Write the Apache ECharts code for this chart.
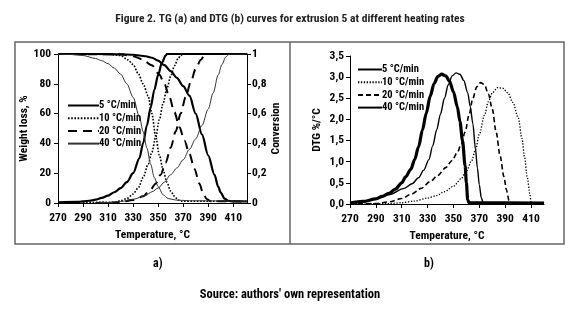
<!DOCTYPE html>
<html>
<head>
<meta charset="utf-8">
<script src="https://cdn.jsdelivr.net/npm/echarts@6/dist/echarts.min.js"></script>
<style>
  html, body { margin: 0; padding: 0; background: #fff; }
  #chart { width: 580px; height: 311px; }
</style>
</head>
<body>
<div id="chart"></div>
<script>
// heating rates (legend)
const rates = ['5 °C/min', '10 °C/min', '20 °C/min', '40 °C/min'];
const tempTicks = [270, 290, 310, 330, 350, 370, 390, 410];

// a) TG - weight loss, %
const tgT5 = [270, 300, 320, 330, 340, 345, 350, 355, 360, 365, 370, 375, 380, 385, 390, 395, 398, 400, 403, 406, 410, 421];
const tgW5 = [100, 100, 99.8, 99.5, 98.5, 97.5, 95.5, 92.5, 88.5, 84, 78.5, 72, 60, 46, 32, 19, 11, 7, 3, 1.5, 1.1, 1];
const tgT10 = [270, 310, 320, 326, 330, 334, 338, 342, 345, 348, 351, 354, 357, 360, 363, 366, 369, 421];
const tgW10 = [100, 99.8, 99, 96, 93, 87, 80, 72, 60, 45, 32, 22, 14, 8, 4.5, 2, 1.2, 1.2];
const tgT20 = [270, 320, 330, 337, 345, 351, 355, 359, 363, 367, 371, 375, 379, 383, 386, 389, 392, 421];
const tgW20 = [100, 99.8, 98.5, 96.5, 92.5, 86, 80, 71, 61, 51, 42, 33, 23, 13, 6, 2.5, 1.2, 1];
const tgT40 = [270, 280, 290, 300, 305, 310, 315, 320, 325, 330, 335, 338, 341, 344, 347, 350, 354, 358, 364, 375, 421];
const tgW40 = [100, 99.7, 99, 97, 95.5, 93.5, 90.5, 86.5, 80, 71, 58, 48, 37, 26, 17, 11, 5.5, 3, 2, 1.5, 1.2];

// a) conversion
const cvT5 = [270, 285, 295, 300, 305, 310, 315, 320, 325, 330, 335, 338, 341, 344, 347, 350, 353, 356, 357, 421];
const cvC5 = [0.005, 0.008, 0.015, 0.022, 0.035, 0.05, 0.072, 0.1, 0.14, 0.2, 0.3, 0.4, 0.52, 0.64, 0.76, 0.86, 0.94, 0.99, 1, 1];
const cvT10 = [290, 315, 320, 325, 330, 334, 338, 342, 345, 348, 351, 354, 357, 360, 363, 366, 368, 370, 421];
const cvC10 = [0.003, 0.005, 0.015, 0.03, 0.06, 0.1, 0.17, 0.26, 0.34, 0.44, 0.56, 0.67, 0.77, 0.85, 0.92, 0.97, 0.99, 1, 1];
const cvT20 = [300, 310, 320, 330, 338, 344, 348, 352, 356, 360, 364, 368, 372, 376, 380, 384, 387, 389, 421];
const cvC20 = [0, 0.002, 0.006, 0.02, 0.045, 0.09, 0.13, 0.19, 0.27, 0.37, 0.48, 0.6, 0.71, 0.81, 0.9, 0.96, 0.99, 1, 1];
const cvT40 = [300, 310, 320, 330, 340, 345, 350, 355, 360, 365, 370, 375, 380, 385, 390, 394, 398, 401, 404, 407, 421];
const cvC40 = [0, 0.003, 0.01, 0.025, 0.05, 0.075, 0.1, 0.14, 0.19, 0.235, 0.29, 0.36, 0.43, 0.52, 0.63, 0.74, 0.86, 0.93, 0.98, 1, 1];

// b) DTG, %/°C
const dtT5 = [270, 280, 290, 295, 300, 305, 310, 313, 317, 320, 323, 326, 329, 332, 335, 338, 341, 344, 347, 350, 353, 355, 357, 359, 360, 361, 362, 420];
const dtD5 = [0.02, 0.06, 0.12, 0.18, 0.25, 0.35, 0.5, 0.64, 0.82, 1.05, 1.35, 1.75, 2.15, 2.55, 2.85, 3.02, 3.07, 3.03, 2.9, 2.65, 2.3, 1.95, 1.5, 0.9, 0.5, 0.1, 0.03, 0.02];
const dtT10 = [270, 300, 310, 320, 330, 337, 343, 350, 356, 360, 364, 367, 370, 374, 377, 380, 384, 388, 392, 396, 400, 403, 405, 407, 409, 410, 412, 420];
const dtD10 = [0, 0.01, 0.03, 0.07, 0.14, 0.2, 0.29, 0.42, 0.6, 0.78, 1.02, 1.28, 1.65, 2.1, 2.42, 2.63, 2.75, 2.74, 2.63, 2.4, 2.05, 1.55, 1.1, 0.65, 0.25, 0.05, 0.02, 0.02];
const dtT20 = [270, 290, 300, 310, 318, 325, 332, 338, 344, 349, 353, 356, 359, 362, 365, 368, 371, 374, 377, 380, 383, 386, 389, 391, 393, 395, 420];
const dtD20 = [0, 0.01, 0.05, 0.13, 0.24, 0.37, 0.53, 0.68, 0.86, 1.03, 1.22, 1.42, 1.7, 2.1, 2.5, 2.77, 2.87, 2.82, 2.6, 2.25, 1.7, 1.15, 0.65, 0.33, 0.08, 0.02, 0.02];
const dtT40 = [270, 282, 290, 300, 312, 318, 323, 327, 331, 334, 337, 340, 343, 346, 349, 352, 355, 358, 361, 363, 365, 367, 368.5, 370, 371.5, 373, 420];
const dtD40 = [0.01, 0.06, 0.12, 0.22, 0.37, 0.48, 0.62, 0.8, 1.05, 1.38, 1.75, 2.13, 2.5, 2.82, 3.03, 3.1, 3.07, 2.92, 2.63, 2.3, 1.9, 1.3, 0.85, 0.45, 0.15, 0.03, 0.02];

const FF = '"Roboto Condensed", "DejaVu Sans Condensed", sans-serif';
const pair = (t, v) => t.map((x, i) => [x, v[i]]);
const comma = (v, d) => String(d == null ? v : v.toFixed(d)).replace('.', ',');

// line styles per heating rate: a) TG/conversion, b) DTG
const styleA = [
  { color: '#000', width: 2.2, type: 'solid' },
  { color: '#000', width: 1.6, type: [1.6, 1.6] },
  { color: '#000', width: 2, type: [9, 6] },
  { color: '#333', width: 1, type: 'solid' }
];
const styleB = [
  { color: '#000', width: 3.2, type: 'solid' },
  { color: '#000', width: 1.3, type: [1.3, 1.6] },
  { color: '#000', width: 1.6, type: [5, 3] },
  { color: '#000', width: 1.4, type: 'solid' }
];

function line(name, x, y, data, ls) {
  return {
    name: name, type: 'line', xAxisIndex: x, yAxisIndex: y, data: data,
    symbol: 'none', smooth: 0.3, smoothMonotone: 'x', lineStyle: ls,
    itemStyle: { color: ls.color }, emphasis: { disabled: true }, animation: false
  };
}

const tgData = [pair(tgT5, tgW5), pair(tgT10, tgW10), pair(tgT20, tgW20), pair(tgT40, tgW40)];
const cvData = [pair(cvT5, cvC5), pair(cvT10, cvC10), pair(cvT20, cvC20), pair(cvT40, cvC40)];
const dtData = [pair(dtT5, dtD5), pair(dtT10, dtD10), pair(dtT20, dtD20), pair(dtT40, dtD40)];

const series = [];
rates.forEach((r, i) => {
  series.push(line('a' + i, 0, 0, tgData[i], styleA[i]));
  series.push(line('a' + i, 0, 1, cvData[i], styleA[i]));
  series.push(line('b' + i, 1, 2, dtData[i], styleB[i]));
});

const axisLine = { show: true, lineStyle: { color: '#000', width: 1 } };
const axisTick = { show: true, length: 4, lineStyle: { color: '#000' } };
const lblStyle = { color: '#000', fontFamily: FF, fontSize: 11.5, fontWeight: 'bold' };
const nameStyle = { color: '#000', fontFamily: FF, fontSize: 11.5, fontWeight: 'bold' };

function xAxis(grid, max) {
  return {
    type: 'value', gridIndex: grid, min: 270, max: max, interval: 20,
    name: 'Temperature, °C', nameLocation: 'middle', nameGap: 26, nameTextStyle: nameStyle,
    axisLine: axisLine, axisTick: axisTick, splitLine: { show: false },
    axisLabel: Object.assign({ margin: 9, showMaxLabel: false,
      formatter: v => tempTicks.indexOf(v) >= 0 ? String(v) : '' }, lblStyle)
  };
}

function legend(prefix, left, top, w) {
  return {
    data: [0, 1, 2, 3].map(i => prefix + i), left: left, top: top, orient: 'vertical',
    itemWidth: w, itemHeight: 10, itemGap: 1.7, selectedMode: false,
    itemStyle: { opacity: 0 },
    formatter: n => rates[+n.slice(1)],
    textStyle: { fontFamily: FF, fontSize: 10.5, fontWeight: 'bold', color: '#000', padding: [0, 0, 0, -5] }
  };
}

const chart = echarts.init(document.getElementById('chart'), null, { renderer: 'canvas' });
chart.setOption({
  animation: false,
  backgroundColor: '#fff',
  title: {
    text: 'Figure 2. TG (a) and DTG (b) curves for extrusion 5 at different heating rates',
    left: 'center', top: 8,
    textStyle: { fontFamily: FF, fontSize: 11.5, fontWeight: 'bold', color: '#222' }
  },
  grid: [
    { left: 58, right: 333, top: 54, bottom: 108 },
    { left: 350, right: 36, top: 56, bottom: 107 }
  ],
  legend: [legend('a', 62, 95, 31), legend('b', 352, 59, 24)],
  xAxis: [xAxis(0, 421), xAxis(1, 420)],
  yAxis: [
    {
      type: 'value', gridIndex: 0, position: 'left', min: 0, max: 100, interval: 20,
      name: 'Weight loss, %', nameLocation: 'middle', nameGap: 25, nameRotate: 90, nameTextStyle: nameStyle,
      axisLine: axisLine, axisTick: axisTick, splitLine: { show: false },
      axisLabel: Object.assign({ margin: 7 }, lblStyle)
    },
    {
      type: 'value', gridIndex: 0, position: 'right', min: 0, max: 1, interval: 0.2,
      name: 'Conversion', nameLocation: 'middle', nameGap: 23, nameRotate: 90, nameTextStyle: nameStyle,
      axisLine: axisLine, axisTick: axisTick, splitLine: { show: false },
      axisLabel: Object.assign({ margin: 5, formatter: v => (v === 0 || v === 1) ? String(v) : comma(v, 1) }, lblStyle)
    },
    {
      type: 'value', gridIndex: 1, min: 0, max: 3.5, interval: 0.5,
      name: 'DTG %/°C', nameLocation: 'middle', nameGap: 27, nameRotate: 90, nameTextStyle: nameStyle,
      axisLine: axisLine, axisTick: axisTick, splitLine: { show: false },
      axisLabel: Object.assign({ margin: 6, formatter: v => comma(v, 1) }, lblStyle)
    }
  ],
  graphic: [
    { type: 'rect', shape: { x: 15, y: 42, width: 549, height: 202 }, style: { fill: 'none', stroke: '#666', lineWidth: 1.5 }, silent: true },
    { type: 'line', shape: { x1: 290, y1: 42, x2: 290, y2: 244 }, style: { stroke: '#666', lineWidth: 1.5 }, silent: true },
    { type: 'text', left: 153, top: 258, style: { text: 'a)', font: 'bold 12px ' + FF, fill: '#000' } },
    { type: 'text', left: 424, top: 258, style: { text: 'b)', font: 'bold 12px ' + FF, fill: '#000' } },
    { type: 'text', left: 'center', top: 288, style: { text: "Source: authors' own representation", font: 'bold 12.5px ' + FF, fill: '#000' } }
  ],
  series: series
});
</script>
</body>
</html>
